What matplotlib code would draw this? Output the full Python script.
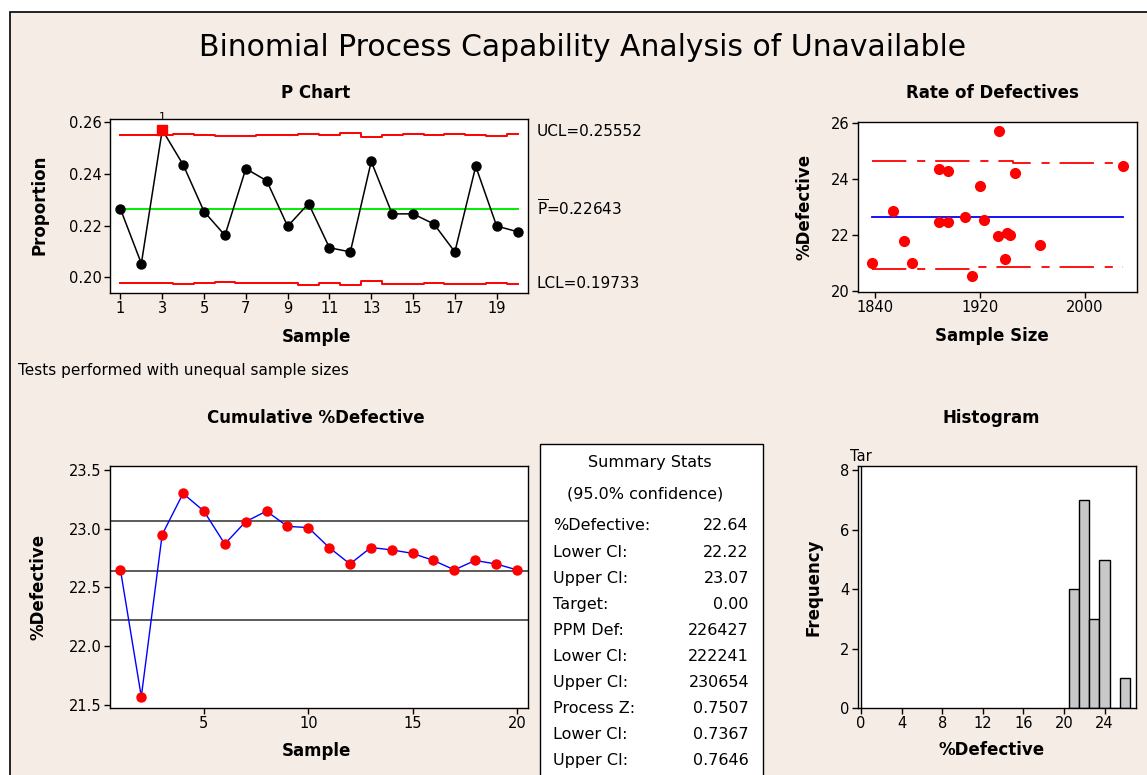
import matplotlib
matplotlib.use("Agg")
import matplotlib.pyplot as plt
from matplotlib.patches import Rectangle
import numpy as np

W, H = 1147, 775
BG = "#f5ece6"

# ---- data -------------------------------------------------------------
samples = np.arange(1, 21)
proportion = [0.2265, 0.2054, 0.2571, 0.2436, 0.2255, 0.2163, 0.2421, 0.2374,
              0.2198, 0.2286, 0.2115, 0.2099, 0.2449, 0.2246, 0.2246, 0.2207,
              0.2099, 0.2430, 0.2199, 0.2177]
sample_size = [1909, 1914, 1935, 1889, 1923, 1966, 1947, 1920, 1934, 1854,
               1939, 1838, 2029, 1896, 1889, 1941, 1868, 1896, 1943, 1862]
ucl = [0.25517, 0.25513, 0.25497, 0.25532, 0.25506, 0.25475, 0.25489, 0.25508,
       0.25498, 0.25559, 0.25494, 0.25572, 0.25430, 0.25527, 0.25532, 0.25493,
       0.25548, 0.25527, 0.25491, 0.25552]
lcl = [0.19769, 0.19773, 0.19789, 0.19754, 0.19780, 0.19811, 0.19798, 0.19778,
       0.19788, 0.19727, 0.19792, 0.19714, 0.19856, 0.19760, 0.19754, 0.19793,
       0.19738, 0.19760, 0.19795, 0.19733]
p_bar = 0.22643
failed_samples = [3]

# rate-of-defectives limit lines (sample size, %defective)
rate_upper_x = [1838, 1945, 2029]
rate_upper_y = [24.64, 24.57, 24.57]
rate_lower_x = [1838, 1917, 2029]
rate_lower_y = [20.78, 20.87, 20.87]

cum_defective = [22.65, 21.57, 22.95, 23.30, 23.15, 22.87, 23.06, 23.15, 23.02,
                 23.01, 22.84, 22.70, 22.84, 22.82, 22.79, 22.73, 22.65, 22.73,
                 22.70, 22.65]
pct_defective, lower_ci, upper_ci = 22.64, 22.22, 23.07
target = 0.0
hist_bins = [20.5, 21.5, 22.5, 23.5, 24.5, 25.5, 26.5]

stats_rows = [
    ("%Defective:", "22.64"),
    ("Lower CI:", "22.22"),
    ("Upper CI:", "23.07"),
    ("Target:", "0.00"),
    ("PPM Def:", "226427"),
    ("Lower CI:", "222241"),
    ("Upper CI:", "230654"),
    ("Process Z:", "0.7507"),
    ("Lower CI:", "0.7367"),
    ("Upper CI:", "0.7646"),
]

pct = np.array(proportion) * 100


def rect(l, t, r, b):
    return [l / W, 1 - b / H, (r - l) / W, (b - t) / H]


def ftext(x, y, s, **kw):
    return fig.text(x / W, 1 - y / H, s, **kw)


def style_axes(ax):
    ax.set_facecolor("white")
    for sp in ax.spines.values():
        sp.set_linewidth(1.0)
        sp.set_color("black")
    ax.tick_params(direction="out", length=4, width=1, labelsize=10.5,
                   top=False, right=False, pad=2)


plt.rcParams["font.family"] = "DejaVu Sans"
plt.rcParams["mathtext.fontset"] = "dejavusans"
fig = plt.figure(figsize=(W / 100, H / 100), dpi=100, facecolor="white")

# frame of the whole graph window
fig.patches.append(Rectangle((10 / W, -0.05), 1.1, 1 - 12 / H + 0.05,
                             transform=fig.transFigure, facecolor=BG,
                             edgecolor="black", linewidth=1.2, zorder=-10))

ftext(583, 47, "Binomial Process Capability Analysis of Unavailable",
      fontsize=21.5, ha="center", va="center")

title_kw = dict(fontsize=12, fontweight="bold", ha="center", va="center")
label_kw = dict(fontsize=12, fontweight="bold", ha="center", va="center")

# ============================
# P CHART
# ============================
ax1 = fig.add_axes(rect(110, 119, 528, 293))
style_axes(ax1)
ax1.step(samples, ucl, where="mid", color="red", lw=1.4, zorder=2)
ax1.step(samples, lcl, where="mid", color="red", lw=1.4, zorder=2)
ax1.plot([1, 20], [p_bar, p_bar], color="#00ee00", lw=1.4, zorder=2)
ax1.plot(samples, proportion, color="black", lw=1.1, marker="o",
         markersize=6.5, markerfacecolor="black", zorder=3)
for s in failed_samples:
    ax1.plot(s, proportion[s - 1], marker="s", markersize=7, color="red",
             zorder=4)
    ax1.annotate("1", (s, proportion[s - 1]), xytext=(0, 6),
                 textcoords="offset points", ha="center", va="bottom",
                 fontsize=8, annotation_clip=False)
ax1.set_xlim(0.5, 20.5)
ax1.set_ylim(0.1940, 0.2613)
ax1.set_xticks(range(1, 20, 2))
ax1.set_yticks([0.20, 0.22, 0.24, 0.26])
ax1.set_yticklabels(["0.20", "0.22", "0.24", "0.26"])

ftext(316, 93, "P Chart", **title_kw)
ftext(316, 337, "Sample", **label_kw)
ftext(39, 205, "Proportion", rotation=90, **label_kw)
ftext(537, 132, f"UCL={ucl[-1]:.5f}", fontsize=11, ha="left", va="center")
ftext(537, 209, r"$\overline{\mathrm{P}}$" + f"={p_bar:.5f}", fontsize=11,
      ha="left", va="center")
ftext(537, 284, f"LCL={lcl[-1]:.5f}", fontsize=11, ha="left", va="center")
ftext(18, 370, "Tests performed with unequal sample sizes", fontsize=11,
      ha="left", va="center")

# ============================
# RATE OF DEFECTIVES
# ============================
ax2 = fig.add_axes(rect(858, 122, 1137, 292))
style_axes(ax2)
dash = (0, (19, 6, 4.5, 5.5))
ax2.step(rate_upper_x, rate_upper_y, where="post", color="red", lw=1.3,
         linestyle=dash, zorder=2)
ax2.step(rate_lower_x, rate_lower_y, where="post", color="red", lw=1.3,
         linestyle=dash, zorder=2)
ax2.plot([min(sample_size), max(sample_size)], [pct_defective] * 2,
         color="blue", lw=1.3, zorder=2)
ax2.plot(sample_size, pct, linestyle="none", marker="o", markersize=7,
         color="red", zorder=3)
ax2.set_xlim(1827, 2040)
ax2.set_ylim(19.96, 26.05)
ax2.set_xticks([1840, 1920, 2000])
ax2.set_yticks([20, 22, 24, 26])

ftext(992, 93, "Rate of Defectives", **title_kw)
ftext(992, 336, "Sample Size", **label_kw)
ftext(805, 207, "%Defective", rotation=90, **label_kw)

# ============================
# CUMULATIVE %DEFECTIVE
# ============================
ax3 = fig.add_axes(rect(110, 466, 528, 708))
style_axes(ax3)
for yv in (upper_ci, pct_defective, lower_ci):
    ax3.axhline(yv, color="#404040", lw=1.2, zorder=1)
ax3.plot(samples, cum_defective, color="blue", lw=1.0, marker="o",
         markersize=6.5, markerfacecolor="red", markeredgecolor="red",
         zorder=3)
ax3.set_xlim(0.5, 20.53)
ax3.set_ylim(21.474, 23.534)
ax3.set_xticks([5, 10, 15, 20])
ax3.set_yticks([21.5, 22.0, 22.5, 23.0, 23.5])
ax3.set_yticklabels(["21.5", "22.0", "22.5", "23.0", "23.5"])

ftext(316, 418, "Cumulative %Defective", **title_kw)
ftext(316, 751, "Sample", **label_kw)
ftext(38, 587, "%Defective", rotation=90, **label_kw)

# ============================
# SUMMARY STATS
# ============================
fig.patches.append(Rectangle((540 / W, -0.05), (763 - 540) / W,
                             1 - 444 / H + 0.05, transform=fig.transFigure,
                             facecolor="white", edgecolor="black",
                             linewidth=1.0, zorder=-5))
ftext(650, 463, "Summary Stats", fontsize=11.5, ha="center", va="center")
ftext(645, 494, "(95.0% confidence)", fontsize=11.5, ha="center", va="center")
row_y = 526
for name, val in stats_rows:
    ftext(553, row_y, name, fontsize=11.5, ha="left", va="center")
    ftext(749, row_y, val, fontsize=11.5, ha="right", va="center")
    row_y += 26.1

# ============================
# HISTOGRAM
# ============================
ax4 = fig.add_axes(rect(858, 466, 1136, 708))
style_axes(ax4)
ax4.hist(pct, bins=hist_bins, color="#c8c8c8", edgecolor="black",
         linewidth=1.0, zorder=2)
ax4.axvline(target, color="black", lw=1.0, zorder=3)
ax4.text(target, 1.01, "Tar", transform=ax4.get_xaxis_transform(),
         fontsize=10.5, ha="center", va="bottom")
ax4.set_xlim(-0.3, 27.1)
ax4.set_ylim(0, 8.15)
ax4.set_xticks(range(0, 25, 4))
ax4.set_yticks(range(0, 9, 2))

ftext(991, 418, "Histogram", **title_kw)
ftext(992, 750, "%Defective", **label_kw)
ftext(813, 587, "Frequency", rotation=90, **label_kw)

fig.savefig("out.png", dpi=100, facecolor="white")
